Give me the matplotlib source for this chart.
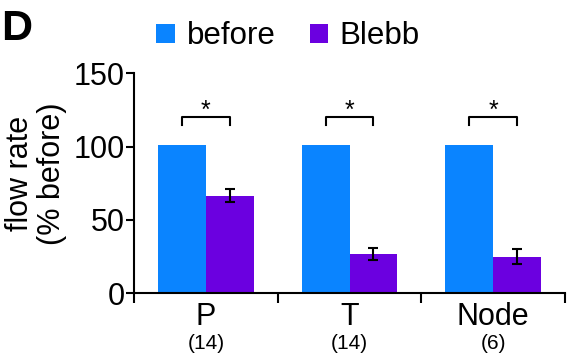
import numpy as np
import matplotlib
matplotlib.use("Agg")
import matplotlib.pyplot as plt

plt.rcParams['font.family'] = ['Liberation Sans', 'DejaVu Sans']

groups = ["P", "T", "Node"]
counts = ["(14)", "(14)", "(6)"]
before = [101, 101, 101]
blebb = [66.5, 27, 25]
blebb_err = [4.5, 4, 5.2]
sig_height = 120
blue = "#0a84ff"
purple = "#6b00e0"

fig = plt.figure(figsize=(5.69, 3.55), dpi=100)
ax = fig.add_axes([0.2355, 0.1738, 0.7575, 0.6197])

x = np.arange(len(groups))
w = 1/3
ax.bar(x - w/2, before, w, color=blue, label="before")
ax.bar(x + w/2, blebb, w, color=purple, label="Blebb")
ax.errorbar(x + w/2, blebb, yerr=blebb_err, fmt="none", ecolor="black",
            elinewidth=1.5, capsize=3.6, capthick=1.5)

for xi in x:
    ax.plot([xi - w/2, xi - w/2, xi + w/2, xi + w/2],
            [sig_height - 5.5, sig_height, sig_height, sig_height - 5.5],
            color="black", lw=1.5, clip_on=False)
    ax.text(xi, sig_height - 4, "*", ha="center", va="bottom", fontsize=18)

ax.set_xlim(-0.5, 2.5)
ax.set_ylim(0, 150)
ax.set_yticks([0, 50, 100, 150])
ax.set_xticks(np.arange(-0.5, 3, 1))
ax.set_xticklabels([])
ax.set_xticks(x, minor=True)
ax.set_xticklabels(groups, minor=True, fontsize=22)
ax.tick_params(axis="x", which="minor", length=0, pad=6)
ax.tick_params(axis="x", which="major", direction="out", length=7.5, width=1.5)
ax.tick_params(axis="y", direction="out", length=6, width=1.5, labelsize=22, pad=0.5)
for s in ["top", "right"]:
    ax.spines[s].set_visible(False)
for s in ["left", "bottom"]:
    ax.spines[s].set_linewidth(1.5)

for xi, c in zip(x, counts):
    ax.text(xi, -27.5, c, ha="center", va="top", fontsize=15)

ax.set_ylabel("flow rate\n(% before)", fontsize=22, linespacing=1.08, labelpad=3)
ax.yaxis.set_label_coords(-0.155, 0.545)

fig.legend(loc="upper left", bbox_to_anchor=(0.275, 0.94), ncol=2, frameon=False,
           fontsize=22.5, handlelength=0.58, handleheight=0.58, handletextpad=0.38,
           columnspacing=1.1, borderpad=0, borderaxespad=0)
fig.text(0.002, 0.975, "D", fontsize=31, fontweight="bold", va="top", ha="left")

fig.savefig("out.png", dpi=100)
